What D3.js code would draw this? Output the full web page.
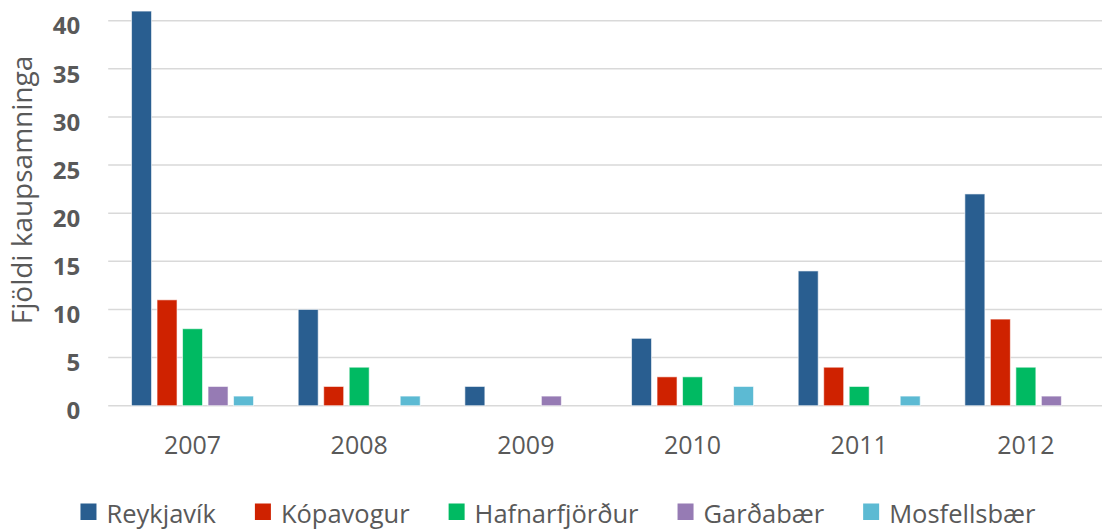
<!DOCTYPE html>
<html>
<head>
<meta charset="utf-8">
<script src="https://cdn.jsdelivr.net/npm/d3@7"></script>
<style>
  body { margin: 0; background: #fff; }
  text { font-family: "Open Sans", sans-serif; }
</style>
</head>
<body>
<div id="chart"><svg></svg></div>
<script>
// data
var years = ["2007", "2008", "2009", "2010", "2011", "2012"];
var towns = ["Reykjavík", "Kópavogur", "Hafnarfjörður", "Garðabær", "Mosfellsbær"];
var reykjavik = [41, 10, 2, 7, 14, 22];
var kopavogur = [11, 2, 0, 3, 4, 9];
var hafnarfjordur = [8, 4, 0, 3, 2, 4];
var gardabaer = [2, 0, 1, 0, 0, 1];
var mosfellsbaer = [1, 1, 0, 2, 1, 0];
var yTicks = [0, 5, 10, 15, 20, 25, 30, 35, 40];
var colors = ["#295E90", "#CF2200", "#00BA62", "#967BB4", "#5CBAD3"];

var seriesValues = [reykjavik, kopavogur, hafnarfjordur, gardabaer, mosfellsbaer];
var data = years.map(function (y, i) {
    return { year: y, values: towns.map(function (t, j) { return { town: t, value: seriesValues[j][i] }; }) };
});

var W = 1102, H = 531;
var margin = { top: 20.7, left: 109.2 },
    width = 1000,
    height = 385;

var svg = d3.select("#chart").select("svg")
    .attr("width", W)
    .attr("height", H);

var g = svg.append("g")
    .attr("transform", "translate(" + margin.left + "," + margin.top + ")");

var x0 = d3.scaleBand()
    .domain(years)
    .range([0, width])
    .paddingInner(0.235)
    .paddingOuter(0.1175);

var x1 = d3.scaleBand()
    .domain(towns)
    .range([0, x0.bandwidth()])
    .paddingInner(0.216)
    .paddingOuter(0.108);

var y = d3.scaleLinear()
    .domain([0, 40])
    .range([height, 0]);

var color = d3.scaleOrdinal().domain(towns).range(colors);

// gridlines
g.append("g")
    .attr("class", "grid")
    .selectAll("line")
    .data(yTicks)
    .enter().append("line")
    .attr("x1", -1)
    .attr("x2", W - margin.left)
    .attr("y1", function (d) { return y(d); })
    .attr("y2", function (d) { return y(d); })
    .attr("stroke", "#d9d9d9")
    .attr("stroke-width", 1.5);

// y axis labels
var yAxis = g.append("g")
    .call(d3.axisLeft(y).tickValues(yTicks).tickSize(0).tickPadding(29));
yAxis.select(".domain").remove();
yAxis.selectAll("text")
    .attr("fill", "#595959")
    .style("font-size", "24px")
    .style("font-weight", "700")
    .attr("dy", "0.55em");

// x axis labels
var xAxis = g.append("g")
    .attr("transform", "translate(0," + height + ")")
    .call(d3.axisBottom(x0).tickSize(0).tickPadding(31));
xAxis.select(".domain").remove();
xAxis.selectAll("text")
    .attr("fill", "#595959")
    .style("font-size", "25px");

// bars
var slice = g.selectAll(".slice")
    .data(data)
    .enter().append("g")
    .attr("class", "slice")
    .attr("transform", function (d) { return "translate(" + x0(d.year) + ",0)"; });

slice.selectAll("rect")
    .data(function (d) { return d.values.filter(function (v) { return v.value > 0; }); })
    .enter().append("rect")
    .attr("x", function (d) { return x1(d.town); })
    .attr("width", x1.bandwidth())
    .attr("y", function (d) { return y(d.value); })
    .attr("height", function (d) { return height - y(d.value); })
    .attr("fill", function (d) { return color(d.town); })
    .attr("stroke", "#ffffff")
    .attr("stroke-opacity", 0.6)
    .attr("stroke-width", 1);

// y axis title
svg.append("text")
    .attr("transform", "translate(32,190) rotate(-90)")
    .attr("text-anchor", "middle")
    .attr("fill", "#595959")
    .style("font-size", "28px")
    .text("Fjöldi kaupsamninga");

// legend (kept just above the bottom edge so descenders are not cut)
var legend = svg.append("g").attr("class", "legend");
var cursor = 0;
towns.forEach(function (t, i) {
    var item = legend.append("g").attr("transform", "translate(" + cursor + ",0)");
    item.append("rect")
        .attr("x", 0)
        .attr("y", -16.5)
        .attr("width", 16)
        .attr("height", 16.5)
        .attr("fill", colors[i]);
    var txt = item.append("text")
        .attr("x", 26)
        .attr("y", 2.7)
        .attr("fill", "#595959")
        .style("font-size", "25.5px")
        .text(t);
    cursor += 26 + txt.node().getComputedTextLength() + 39;
});
var legendWidth = cursor - 39;
legend.attr("transform", "translate(" + (558 - legendWidth / 2) + ",520)");
</script>
</body>
</html>
